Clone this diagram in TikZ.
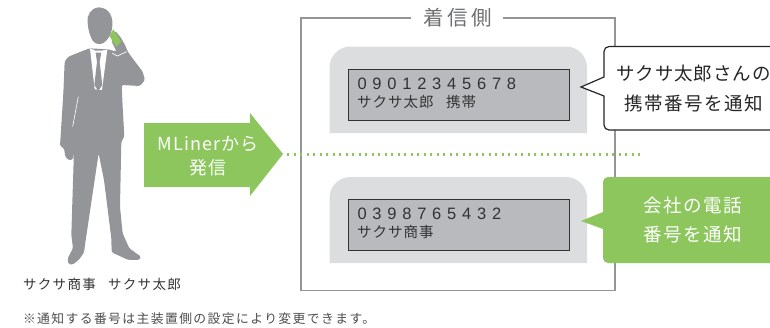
\documentclass[tikz,border=0pt]{standalone}
\usepackage{fontspec}
\setmainfont{Liberation Sans}
\newfontfamily\jpfont{Noto Sans CJK JP}
\newfontfamily\numfont{Liberation Sans}
\newcommand{\jps}[2]{\fontsize{#1}{#1}\selectfont\jpfont\addfontfeature{LetterSpace=#2}}
\newcommand{\nums}[2]{\fontsize{#1}{#1}\selectfont\numfont\addfontfeature{LetterSpace=#2}}
\definecolor{figgray}{HTML}{939598}
\definecolor{leaf}{HTML}{8CC65D}
\definecolor{panelgray}{HTML}{DCDDDE}
\definecolor{lcdgray}{HTML}{B9BABD}
\definecolor{inkdark}{HTML}{333333}
\tikzset{
  lbl/.style={inner sep=0pt,outer sep=0pt,text=inkdark},
  whitelbl/.style={inner sep=0pt,outer sep=0pt,text=white},
  panelshape/.style={fill=panelgray,draw=none},
  lcd/.style={fill=lcdgray,draw=inkdark,line width=0.8pt},
}
\begin{document}
\begin{tikzpicture}[x=1pt,y=-1pt]
\clip (0,0) rectangle (770,327);
\useasboundingbox (0,0) rectangle (770,327);
% silhouette
\begin{scope}[x=0.3333pt,y=-0.3333pt]
\fill[figgray,rounded corners=1.5pt] (268,145) -- (205,170) -- (194,185) -- (190,280) -- (180,438) -- (192,445) -- (196,470) -- (206,481) -- (219,478) -- (222,450)
 -- (216,640) -- (214,705) -- (219,745) -- (203,775) -- (205,792) -- (218,794) -- (236,780) -- (252,758) -- (255,735) -- (272,620) -- (296,460)
 -- (312,540) -- (334,715) -- (335,757) -- (385,780) -- (418,780) -- (423,770) -- (388,745) -- (368,700) -- (360,620) -- (364,425) -- (373,410)
 -- (368,320) -- (365,255) -- (420,258) -- (435,240) -- (428,215) -- (385,158) -- (375,135) -- (362,112) -- (345,92) -- (335,125) -- (350,155) -- (325,148) -- cycle;
\fill[figgray] (297,22) .. controls (272,24) and (260,45) .. (263,68) .. controls (265,95) and (272,112) .. (278,122) .. controls (285,132) and (300,136) .. (312,128) .. controls (325,118) and (332,105) .. (336,88) .. controls (342,50) and (328,24) .. (297,22) -- cycle;
\fill[leaf] (340,88) -- (363,124) -- (350,141) -- (328,108) -- cycle;
\fill[white] (270,145) -- (286,152) -- (305,152) -- (322,148) -- (306,270) -- (284,268) -- cycle;
\fill[figgray] (287,158) -- (304,158) -- (299,186) -- (307,255) -- (295,273) -- (283,255) -- (291,186) -- cycle;
\draw[white,line width=0.7pt] (337,160) -- (352,168) -- (380,155);
\draw[white,line width=0.6pt] (235,290) -- (218,380);
\end{scope}

% receiving frame
\draw[figgray,line width=1.8pt] (411,18) -- (301,18) -- (301,290.5) -- (615,290.5) -- (615,18) -- (503,18);
\node[lbl,text=figgray!75!black,font=\jps{20.5}{16}] (recv) at (458,18) {着信側};

% panels
\path[panelshape] (329.5,133) [rounded corners=21pt] -- (329.5,46.5) -- (587,46.5) [sharp corners] -- (587,133) -- cycle;
\path[panelshape] (329.5,263) [rounded corners=21pt] -- (329.5,177) -- (587,177) [sharp corners] -- (587,263) -- cycle;
\node[lcd,minimum width=221pt,minimum height=51pt,anchor=north west,inner sep=0pt] (lcdA) at (347.5,68.5) {};
\node[lcd,minimum width=221pt,minimum height=51pt,anchor=north west,inner sep=0pt] (lcdB) at (347.5,199) {};
\node[lbl,anchor=west,font=\nums{16.5}{35}] (numA) at (357.5,83.5) {09012345678};
\node[lbl,anchor=west,font=\jps{14.5}{7}] (nameA) at (357,102.5) {サクサ太郎};
\node[lbl,anchor=west,font=\jps{14.5}{7}] (typeA) at (446,102.5) {携帯};
\node[lbl,anchor=west,font=\nums{16.5}{35}] (numB) at (357.5,213.5) {0398765432};
\node[lbl,anchor=west,font=\jps{14.5}{7}] (nameB) at (357,232.5) {サクサ商事};

% callouts
\draw[fill=white,draw=black!85,line width=1.2pt] (604,77) [rounded corners=5pt] -- (604,46.5) -- (785,46.5) -- (785,130) -- (604,130) [sharp corners] -- (604,96) -- (581,87) -- cycle;
\node[lbl,font=\jps{18.5}{5},text=black!85] (callA1) at (693.5,73.5) {サクサ太郎さんの};
\node[lbl,font=\jps{18.5}{8},text=black!85] (callA2) at (693.5,103) {携帯番号を通知};
\fill[leaf] (603,212) [rounded corners=5pt] -- (603,177) -- (785,177) -- (785,263) -- (603,263) [sharp corners] -- (603,229) -- (581,221) -- cycle;
\node[whitelbl,font=\jps{18.5}{8}] (callB1) at (693,205) {会社の電話};
\node[whitelbl,font=\jps{18.5}{8}] (callB2) at (693,234) {番号を通知};

% arrow
\fill[leaf] (144,123) -- (250,123) -- (250,113) -- (283,154) -- (250,196) -- (250,187) -- (144,187) -- cycle;
\coordinate (arrowtip) at (287,154.5);
\coordinate (dotend) at (640,154.5);
\draw[leaf,line width=2.4pt,dash pattern=on 2.4pt off 4.1pt] (arrowtip) -- (dotend);
\node[whitelbl,font=\jps{18}{6}] (arrowA) at (208,144) {MLinerから};
\node[whitelbl,font=\jps{18}{6}] (arrowB) at (208,167.5) {発信};

% captions
\node[lbl,anchor=west,font=\jps{13.5}{10}] (capA) at (23,284) {サクサ商事};
\node[lbl,anchor=west,font=\jps{13.5}{10}] (capB) at (108,284) {サクサ太郎};
\node[lbl,anchor=west,text=black!70,font=\jps{12.8}{11}] (note) at (23,319) {※通知する番号は主装置側の設定により変更できます。};
\end{tikzpicture}
\end{document}
